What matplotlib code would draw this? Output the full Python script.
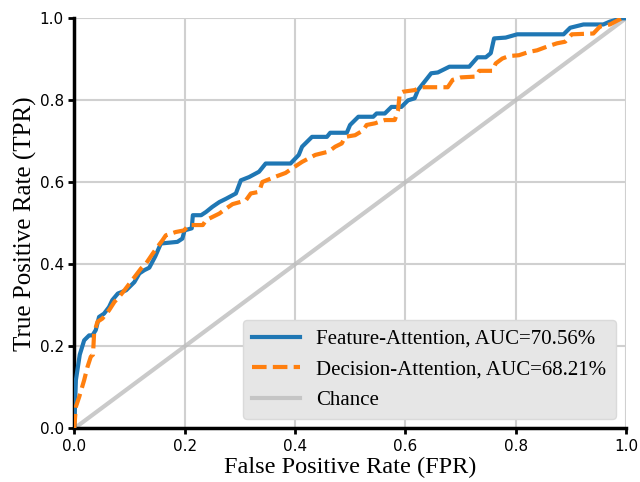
import matplotlib
matplotlib.use("Agg")
import matplotlib.pyplot as plt

# ROC points
feat_fpr = [0.0, 0.003, 0.010, 0.018, 0.027, 0.033, 0.039, 0.045, 0.054, 0.063, 0.069,
            0.079, 0.094, 0.109, 0.118, 0.127, 0.136, 0.147, 0.157, 0.187, 0.196, 0.200,
            0.213, 0.215, 0.230, 0.239, 0.250, 0.263, 0.275, 0.293, 0.302, 0.317, 0.335,
            0.347, 0.392, 0.407, 0.413, 0.431, 0.458, 0.464, 0.494, 0.500, 0.515, 0.542,
            0.548, 0.563, 0.575, 0.593, 0.605, 0.617, 0.623, 0.647, 0.659, 0.680, 0.716,
            0.731, 0.746, 0.755, 0.761, 0.782, 0.803, 0.887, 0.899, 0.923, 0.959, 0.971,
            0.992, 1.0]
feat_tpr = [0.0, 0.118, 0.180, 0.215, 0.227, 0.227, 0.240, 0.272, 0.280, 0.296, 0.313,
            0.329, 0.337, 0.357, 0.378, 0.386, 0.392, 0.420, 0.451, 0.455, 0.463, 0.483,
            0.488, 0.520, 0.520, 0.528, 0.540, 0.552, 0.560, 0.573, 0.605, 0.613, 0.626,
            0.646, 0.646, 0.667, 0.687, 0.711, 0.711, 0.721, 0.721, 0.740, 0.760, 0.760,
            0.768, 0.768, 0.784, 0.784, 0.800, 0.805, 0.825, 0.866, 0.868, 0.882, 0.882,
            0.905, 0.905, 0.915, 0.951, 0.953, 0.961, 0.961, 0.977, 0.985, 0.985, 0.992,
            1.0, 1.0]

dec_fpr = [0.0, 0.003, 0.009, 0.018, 0.024, 0.030, 0.034, 0.036, 0.042, 0.051, 0.063,
           0.073, 0.079, 0.091, 0.100, 0.112, 0.121, 0.130, 0.142, 0.151, 0.160, 0.166,
           0.184, 0.199, 0.208, 0.233, 0.239, 0.263, 0.275, 0.287, 0.311, 0.320, 0.335,
           0.341, 0.365, 0.383, 0.395, 0.413, 0.437, 0.461, 0.473, 0.485, 0.491, 0.509,
           0.524, 0.530, 0.545, 0.563, 0.581, 0.587, 0.590, 0.596, 0.617, 0.629, 0.677,
           0.686, 0.701, 0.728, 0.734, 0.758, 0.764, 0.776, 0.788, 0.806, 0.824, 0.839,
           0.857, 0.875, 0.890, 0.902, 0.941, 0.953, 0.971, 0.992, 1.0]
dec_tpr = [0.0, 0.053, 0.077, 0.118, 0.150, 0.175, 0.180, 0.232, 0.260, 0.268, 0.288,
           0.309, 0.317, 0.337, 0.353, 0.374, 0.390, 0.402, 0.426, 0.443, 0.459, 0.471,
           0.479, 0.483, 0.496, 0.496, 0.508, 0.524, 0.536, 0.547, 0.556, 0.573, 0.577,
           0.601, 0.614, 0.623, 0.634, 0.650, 0.667, 0.675, 0.687, 0.695, 0.711, 0.715,
           0.727, 0.740, 0.744, 0.752, 0.752, 0.776, 0.817, 0.821, 0.825, 0.832, 0.832,
           0.850, 0.856, 0.858, 0.872, 0.872, 0.890, 0.902, 0.908, 0.910, 0.918, 0.922,
           0.931, 0.939, 0.943, 0.961, 0.963, 0.980, 0.985, 1.0, 1.0]

chance = [0.0, 1.0]

labels = ['Feature-Attention, AUC=70.56%', 'Decision-Attention, AUC=68.21%', 'Chance']

serif = ['Liberation Serif', 'DejaVu Serif']

fig = plt.figure(figsize=(6.4, 4.82), dpi=100)
ax = fig.add_axes([0.116, 0.111, 0.862, 0.851])

ax.grid(True, color='#d0d0d0', linewidth=1.5, zorder=0)
ax.plot(feat_fpr, feat_tpr, color='#1f77b4', linewidth=3, label=labels[0], zorder=3)
ax.plot(dec_fpr, dec_tpr, color='#ff7f0e', linewidth=3, linestyle='--',
        dashes=(3.5, 1.5), label=labels[1], zorder=4)
ax.plot(chance, chance, color='#bdbdbd', linewidth=3, alpha=0.8, label=labels[2], zorder=2)

ax.set_xlim(0, 1)
ax.set_ylim(0, 1)
for side in ['top', 'right']:
    ax.spines[side].set_visible(False)
for side in ['left', 'bottom']:
    ax.spines[side].set_linewidth(2.5)
ax.tick_params(width=2, length=4, labelsize=11)

ax.set_xlabel('False Positive Rate (FPR)', family=serif, fontsize=17.5, labelpad=2)
ax.set_ylabel('True Positive Rate (TPR)', family=serif, fontsize=18, labelpad=2)

leg = ax.legend(loc='lower right', prop={'family': serif, 'size': 15},
                facecolor='#e6e6e6', edgecolor='#dadada', framealpha=1,
                handlelength=2.3, borderpad=0.45, labelspacing=0.53,
                borderaxespad=0, bbox_to_anchor=(0.982, 0.022))

fig.savefig('out.png', dpi=100)
